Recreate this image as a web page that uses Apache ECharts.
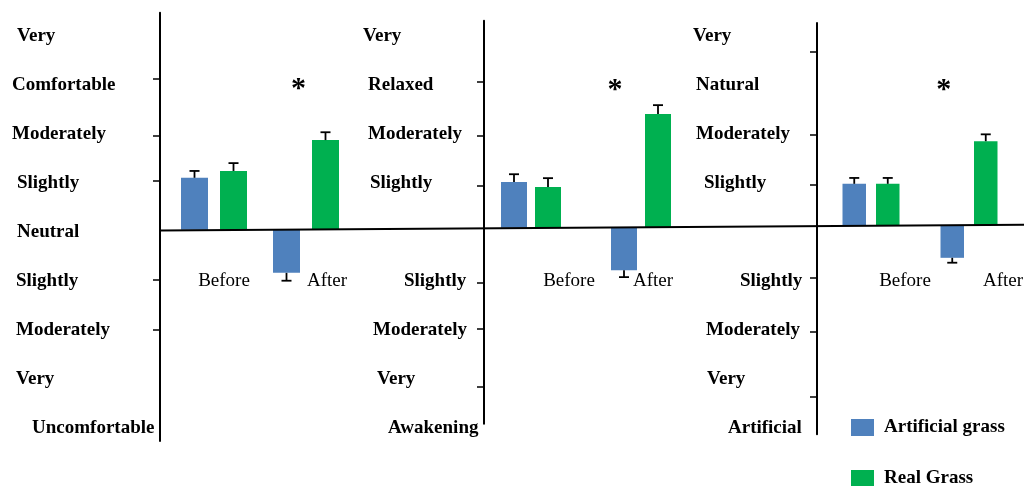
<!DOCTYPE html>
<html>
<head>
<meta charset="utf-8">
<script src="https://cdn.jsdelivr.net/npm/echarts@6/dist/echarts.min.js"></script>
<style>
  html, body { margin: 0; padding: 0; background: #fff; }
  #chart { width: 1024px; height: 486px; }
</style>
</head>
<body>
<div id="chart"></div>
<script>
// categorias y series
const categories = ["Before", "After"];
const seriesNames = ["Artificial grass", "Real Grass"];

// panel 1 : comfortable / uncomfortable  (labels for values -4..4)
const comfortLabels = ["Uncomfortable", "Very", "Moderately", "Slightly", "Neutral", "Slightly", "Moderately", "Comfortable", "Very"];
const comfortArtificial = [1.06, -0.88];
const comfortArtificialErr = [0.14, 0.16];
const comfortReal = [1.20, 1.83];
const comfortRealErr = [0.16, 0.16];
const comfortTicks = [3.08, 1.91, 0.99, -1.03, -2.05];
const comfortStar = 2.96;

// panel 2 : relaxed / awakening
const relaxLabels = ["Awakening", "Very", "Moderately", "Slightly", "", "Slightly", "Moderately", "Relaxed", "Very"];
const relaxArtificial = [0.93, -0.87];
const relaxArtificialErr = [0.16, 0.14];
const relaxReal = [0.83, 2.32];
const relaxRealErr = [0.18, 0.18];
const relaxTicks = [2.97, 1.87, 0.85, -1.13, -2.07, -3.25];
const relaxStar = 2.91;

// panel 3 : natural / artificial
const naturalLabels = ["Artificial", "Very", "Moderately", "Slightly", "", "Slightly", "Moderately", "Natural", "Very"];
const naturalArtificial = [0.85, -0.66];
const naturalArtificialErr = [0.12, 0.10];
const naturalReal = [0.85, 1.72];
const naturalRealErr = [0.12, 0.14];
const naturalTicks = [3.54, 1.85, 0.83, -1.07, -2.17, -3.50];
const naturalStar = 2.87;

// layout (pixels)
const UNIT = 49;
const ROW_MID = 232.5;                     // y of the "Neutral" row, same in every panel
const CAT_LABEL_Y = 281.5;                 // y of the Before / After labels
const zeroLine = [[160, 230.4], [1024, 224.8]];
const zeroAt = (x) => {
  const [[x1, y1], [x2, y2]] = zeroLine;
  return y1 + (y2 - y1) * (x - x1) / (x2 - x1);
};

const panels = [
  { labels: comfortLabels, art: comfortArtificial, artErr: comfortArtificialErr, real: comfortReal, realErr: comfortRealErr, ticks: comfortTicks, star: comfortStar,
    axisX: 160, labelStart: 12, beforeX: 214, afterX: 306, yMin: -4.31, yMax: 4.43, barWidth: 27, barGap: 12,
    labelDx: [20, 4, 4, 4, 5, 5, 0, 0, 5], catDx: [10, 21], starDx: -27 },
  { labels: relaxLabels, art: relaxArtificial, artErr: relaxArtificialErr, real: relaxReal, realErr: relaxRealErr, ticks: relaxTicks, star: relaxStar,
    axisX: 484, labelStart: 363, beforeX: 531, afterX: 641, yMin: -4, yMax: 4.22, barWidth: 26, barGap: 8,
    labelDx: [25, 14, 10, 41, 0, 7, 5, 5, 0], catDx: [38, 12], starDx: -43 },
  { labels: naturalLabels, art: naturalArtificial, artErr: naturalArtificialErr, real: naturalReal, realErr: naturalRealErr, ticks: naturalTicks, star: naturalStar,
    axisX: 817, labelStart: 693, beforeX: 871, afterX: 969, yMin: -4.26, yMax: 4.13, barWidth: 23.5, barGap: 10,
    labelDx: [35, 14, 13, 47, 0, 11, 3, 3, 0], catDx: [34, 34], starDx: -42 },
];

const BLUE = "#4F81BD";
const GREEN = "#00B050";
const FONT = "'Liberation Serif', 'Times New Roman', serif";

const grid = [], xAxis = [], yAxis = [], series = [];

panels.forEach((p, k) => {
  const zeroY = zeroAt((p.beforeX + p.afterX) / 2);
  const labelShift = ROW_MID - zeroY;
  const top = zeroY - p.yMax * UNIT;
  const height = (p.yMax - p.yMin) * UNIT;
  grid.push({
    left: p.beforeX,
    width: p.afterX - p.beforeX,
    top: top,
    height: height,
    outerBoundsMode: "none",
  });

  // spacers push the Before / After text to the right of the category
  const xRich = { t: { fontFamily: FONT, fontSize: 19, color: "#000" } };
  p.catDx.forEach((d, i) => { xRich["g" + i] = { width: 2 * d, fontSize: 19 }; });
  xAxis.push({
    type: "category",
    gridIndex: k,
    data: categories,
    boundaryGap: false,
    axisLine: { show: false, onZero: false },
    axisTick: { show: false },
    axisLabel: {
      interval: 0,
      // axis sits at the grid bottom, labels are pulled back up under the zero line
      margin: CAT_LABEL_Y - (top + height),
      verticalAlign: "middle",
      align: "center",
      formatter: (v, i) => "{g" + i + "| }{t|" + v + "}",
      rich: xRich,
    },
  });

  const yRich = { t: { fontFamily: FONT, fontSize: 19, fontWeight: "bold", color: "#000" } };
  p.labelDx.forEach((d, i) => { yRich["g" + i] = { width: d, fontSize: 19 }; });
  yAxis.push({
    type: "value",
    gridIndex: k,
    min: p.yMin,
    max: p.yMax,
    offset: p.beforeX - p.axisX,
    splitLine: { show: false },
    axisLine: { show: true, lineStyle: { color: "#000", width: 2 } },
    axisTick: { show: true, customValues: p.ticks, length: 7, lineStyle: { color: "#000", width: 1.5 } },
    axisLabel: {
      customValues: [-4, -3, -2, -1, 0, 1, 2, 3, 4],
      align: "left",
      verticalAlign: "middle",
      margin: p.axisX - p.labelStart,
      padding: [2 * labelShift, 0, 0, 0],
      formatter: (v) => {
        const i = Math.round(v) + 4;
        const txt = p.labels[i];
        if (!txt) return "";
        return (p.labelDx[i] > 0.5 ? "{g" + i + "| }" : "") + "{t|" + txt + "}";
      },
      rich: yRich,
    },
  });

  const off = (p.barWidth + p.barGap) / 2;
  const errBars = (vals, errs, dx) => ({
    type: "custom",
    xAxisIndex: k,
    yAxisIndex: k,
    z: 5,
    silent: true,
    data: vals.map((v, i) => [i, v, errs[i]]),
    renderItem: (params, api) => {
      const c = api.value(0), v = api.value(1), e = api.value(2);
      const s = v >= 0 ? 1 : -1;
      const p0 = api.coord([c, v]);
      const p1 = api.coord([c, v + s * e]);
      const x = p0[0] + dx;
      const st = { stroke: "#000", lineWidth: 1.8 };
      return {
        type: "group",
        children: [
          { type: "line", shape: { x1: x, y1: p0[1], x2: x, y2: p1[1] }, style: st },
          { type: "line", shape: { x1: x - 5, y1: p1[1], x2: x + 5, y2: p1[1] }, style: st },
        ],
      };
    },
  });

  const gapPct = (p.barGap / p.barWidth * 100) + "%";
  series.push({
    name: seriesNames[0],
    type: "bar",
    xAxisIndex: k,
    yAxisIndex: k,
    data: p.art,
    barWidth: p.barWidth,
    barGap: gapPct,
    itemStyle: { color: BLUE },
  });
  series.push({
    name: seriesNames[1],
    type: "bar",
    xAxisIndex: k,
    yAxisIndex: k,
    data: p.real,
    barWidth: p.barWidth,
    barGap: gapPct,
    itemStyle: { color: GREEN },
    // asterisk marking the significant "After" difference
    markPoint: {
      symbol: "circle",
      symbolSize: 1,
      itemStyle: { color: "rgba(0,0,0,0)" },
      label: {
        show: true,
        formatter: "*",
        position: "inside",
        offset: [p.starDx, 5],
        fontFamily: FONT,
        fontWeight: "bold",
        fontSize: 30,
        color: "#000",
      },
      data: [{ coord: [1, p.star] }],
    },
  });
  series.push(errBars(p.art, p.artErr, -off));
  series.push(errBars(p.real, p.realErr, off));
});

const chart = echarts.init(document.getElementById("chart"));
chart.setOption({
  animation: false,
  grid,
  xAxis,
  yAxis,
  series,
  legend: {
    data: seriesNames,
    orient: "vertical",
    left: 851,
    top: 418,
    width: 173,
    height: 120,
    padding: 0,
    icon: "rect",
    itemWidth: 23,
    itemHeight: 17,
    itemGap: 32,
    selectedMode: false,
    textStyle: { fontFamily: FONT, fontSize: 19, lineHeight: 17, fontWeight: "bold", color: "#000", padding: [0, 0, 0, 5] },
  },
  graphic: [{
    type: "line",
    z: 10,
    shape: { x1: zeroLine[0][0], y1: zeroLine[0][1], x2: zeroLine[1][0], y2: zeroLine[1][1] },
    style: { stroke: "#000", lineWidth: 2 },
  }],
});
window.addEventListener("resize", () => chart.resize());
</script>
</body>
</html>
